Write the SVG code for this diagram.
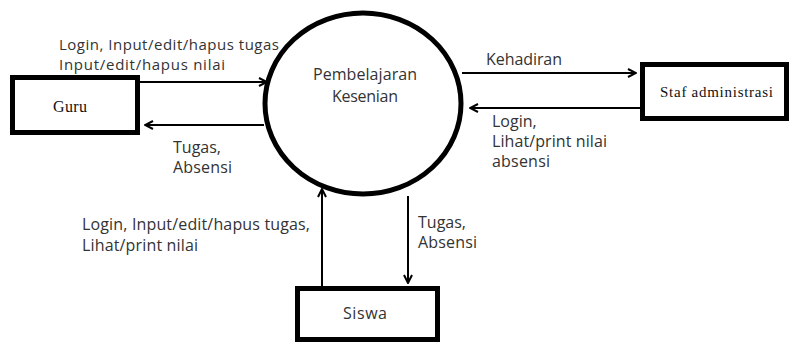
<svg xmlns="http://www.w3.org/2000/svg" width="791" height="342" viewBox="0 0 791 342">
<defs>
<style>
.box{fill:#fff;stroke:#000;stroke-width:5}
.proc{fill:#fff;stroke:#000;stroke-width:5}
.flow{stroke:#000;stroke-width:2;fill:none;marker-end:url(#arr)}
.lbl{font-family:"Open Sans","Liberation Sans",sans-serif;font-size:16px;fill:#333}
.sm{font-size:15px}
.serif{font-family:"Liberation Serif","DejaVu Serif",serif;font-size:15px;fill:#111}
</style>
<marker id="arr" viewBox="0 0 10 10" refX="9" refY="5" markerWidth="10" markerHeight="10" markerUnits="userSpaceOnUse" orient="auto">
<path d="M1,1 L9,5 L1,9" fill="none" stroke="#000" stroke-width="2"/>
</marker>
</defs>
<rect width="791" height="342" fill="#fff"/>
<g id="connectors">
<line class="flow" x1="140" y1="82" x2="267" y2="82"/>
<line class="flow" x1="264" y1="125" x2="145" y2="125"/>
<line class="flow" x1="462" y1="73" x2="636" y2="73"/>
<line class="flow" x1="640" y1="108" x2="470" y2="108"/>
<line class="flow" x1="322" y1="287" x2="322" y2="189"/>
<line class="flow" x1="408" y1="196" x2="408" y2="283"/>
<text class="lbl sm" x="59" y="50" textLength="220">Login, Input/edit/hapus tugas</text>
<text class="lbl sm" x="59" y="70" textLength="166">Input/edit/hapus nilai</text>
<text class="lbl" x="173" y="153">Tugas,</text>
<text class="lbl" x="173" y="173" textLength="59">Absensi</text>
<text class="lbl" x="486" y="65" textLength="76">Kehadiran</text>
<text class="lbl" x="492" y="127">Login,</text>
<text class="lbl" x="492" y="147" textLength="115">Lihat/print nilai</text>
<text class="lbl" x="492" y="167" textLength="58">absensi</text>
<text class="lbl" x="82" y="230" textLength="228">Login, Input/edit/hapus tugas,</text>
<text class="lbl" x="82" y="251" textLength="116">Lihat/print nilai</text>
<text class="lbl" x="418" y="228">Tugas,</text>
<text class="lbl" x="418" y="248" textLength="59">Absensi</text>
</g>
<g id="proses">
<ellipse class="proc" cx="363" cy="103.5" rx="98" ry="90.5"/>
<text class="lbl" x="313" y="80" textLength="104">Pembelajaran</text>
<text class="lbl" x="332" y="102" textLength="66">Kesenian</text>
</g>
<g id="guru">
<rect class="box" x="12.5" y="77.5" width="125" height="55"/>
<text class="serif" x="53" y="112" textLength="34" style="font-size:16px">Guru</text>
</g>
<g id="staf">
<rect class="box" x="642.5" y="64.5" width="144" height="54"/>
<text class="serif" x="660" y="97" textLength="113">Staf administrasi</text>
</g>
<g id="siswa">
<rect class="box" x="297.5" y="288.5" width="140" height="51"/>
<text class="lbl" x="343" y="319" textLength="44">Siswa</text>
</g>
</svg>
